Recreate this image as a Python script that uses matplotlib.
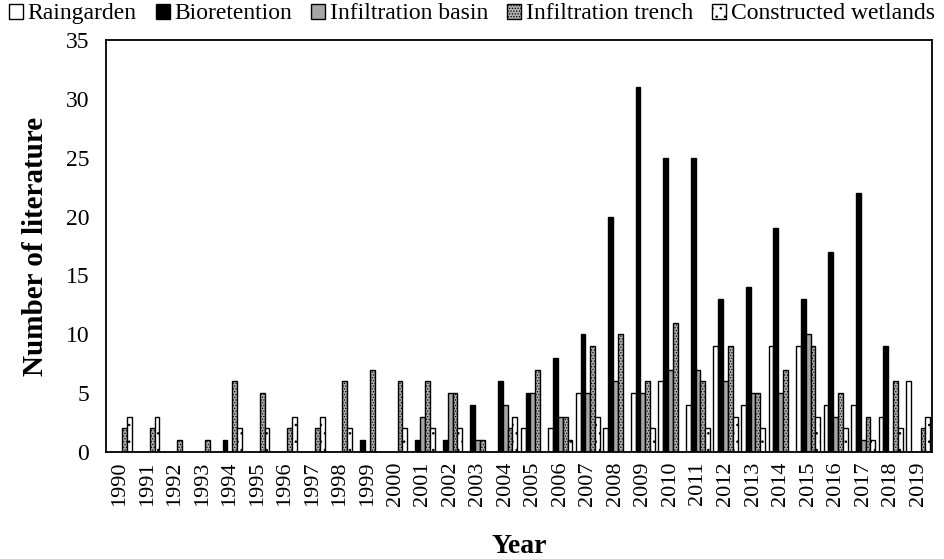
import matplotlib
matplotlib.use("Agg")
import matplotlib.pyplot as plt
import numpy as np

years = [str(y) for y in range(1990, 2020)]
raingarden = [0,0,0,0,0,0,0,0,0,0,0,0,0,0,0,2,2,5,2,5,6,4,9,4,9,9,4,4,3,6]
bioretention = [0,0,0,0,1,0,0,0,0,1,0,1,1,4,6,5,8,10,20,31,25,25,13,14,19,13,17,22,9,0]
infiltration_basin = [0,0,0,0,0,0,0,0,0,0,0,3,5,1,4,5,3,5,6,5,7,7,6,5,5,10,3,1,0,0]
infiltration_trench = [2,2,1,1,6,5,2,2,6,7,6,6,5,1,2,7,3,9,10,6,11,6,9,5,7,9,5,3,6,2]
constructed_wetlands = [3,3,0,0,2,2,3,3,2,0,2,2,2,0,3,0,1,3,0,2,0,2,3,2,0,3,2,1,2,3]

series = [
    ("Raingarden", raingarden, dict(facecolor="white", edgecolor="black", hatch=None)),
    ("Bioretention", bioretention, dict(facecolor="black", edgecolor="black", hatch=None)),
    ("Infiltration basin", infiltration_basin, dict(facecolor="#a6a6a6", edgecolor="black", hatch=None)),
    ("Infiltration trench", infiltration_trench, dict(facecolor="#b0b0b0", edgecolor="black", hatch="......")),
    ("Constructed wetlands", constructed_wetlands, dict(facecolor="white", edgecolor="black", hatch="..")),
]

plt.rcParams['font.family'] = ['Liberation Serif', 'DejaVu Serif']
plt.rcParams['hatch.linewidth'] = 0.6

fig = plt.figure(figsize=(9.44, 5.59), dpi=100)
ax = fig.add_axes([106/944, 1-452/559, (932-106)/944, (452-40)/559])

x = np.arange(len(years))
w = 0.175
for i, (name, vals, st) in enumerate(series):
    ax.bar(x + (i-2)*w, vals, width=w, label=name, linewidth=1.0, **st)

ax.set_xlim(-0.5, len(years)-0.5)
ax.set_ylim(0, 35)
ax.set_yticks(range(0, 36, 5))
ax.set_xticks(x)
ax.set_xticklabels(years, rotation=90, fontsize=16)
ax.tick_params(axis='y', labelsize=17, length=0, pad=12)
ax.tick_params(axis='x', length=0, pad=7)
for s in ax.spines.values():
    s.set_linewidth(1.3)

ax.set_xlabel("Year", fontsize=20, fontweight='bold', labelpad=20)
ax.set_ylabel("Number of literature", fontsize=21, fontweight='bold', labelpad=12)

fig.legend(loc='upper center', bbox_to_anchor=(0.5, 1.015), ncol=5, frameon=False,
           fontsize=17, handlelength=0.6, handleheight=0.6, handletextpad=0.2,
           columnspacing=0.8, borderaxespad=0.1)

fig.savefig("out.png", dpi=100)
